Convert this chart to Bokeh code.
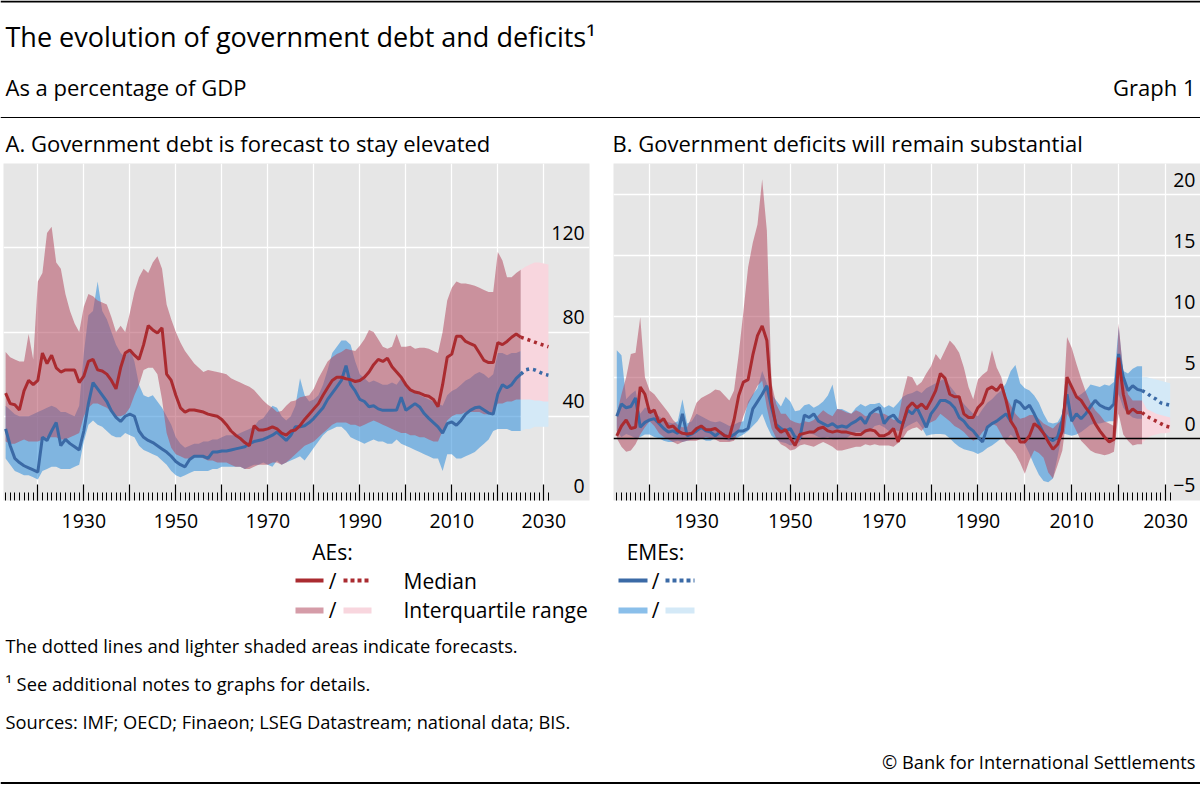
from bokeh.plotting import figure
from bokeh.models import Range1d, FixedTicker, LabelSet, ColumnDataSource, LinearAxis, Grid
from bokeh.layouts import column, row
from bokeh.embed import file_html
from bokeh.resources import INLINE
from bokeh.core.properties import value

FONT = "Open Sans"
RED = "#aa2b30"
BLUE = "#3b6aa6"
PINK = "#b34a60"
SKY = "#3c94dc"
PINK_FC = "#f8d6de"
SKY_FC = "#d4e9f7"
BG = "#e6e6e6"

# ---------------- data ----------------
years = list(range(1913, 2026))
fc_years = list(range(2025, 2032))
decade_ticks = list(range(1920, 2031, 10))
year_ticks = list(range(1913, 2032))
x_tick_labels = ["1930", "1950", "1970", "1990", "2010", "2030"]

# Panel A: government debt, % of GDP
ae_debt_med = [51, 46, 45.5, 43, 52, 57, 55, 57, 70, 65,
               69, 63, 61, 62, 62, 62, 56, 59, 66, 67,
               62, 61.5, 60, 57, 53, 63, 70, 71.5, 69, 67,
               74, 83, 81, 79.5, 82, 60, 57, 50, 44, 42,
               43, 43, 42.5, 42, 41, 40.5, 40, 38.5, 36, 33,
               31, 29.5, 27.5, 26, 35.5, 33.5, 33.5, 34, 35, 34,
               32, 31, 33, 33.5, 35.5, 38.5, 41, 43.5, 46, 50,
               53.5, 57, 58.5, 58.5, 57.8, 57.4, 56.5, 57, 58.5, 61,
               64.5, 67, 66, 67.5, 63.5, 61, 58.5, 55, 52.5, 51.5,
               51, 50, 49.5, 48, 44.5, 55, 68, 69.5, 78, 78,
               75.5, 74.5, 73.5, 70, 66.5, 65.5, 65.5, 75, 74, 75.5,
               77.5, 79, 77.5]
ae_debt_q75 = [70.5, 68, 67, 66, 66, 79, 67, 104, 108, 127,
               130, 113, 110, 98, 90, 84, 80, 92, 98, 97,
               95, 94, 93, 87, 80, 83, 80, 89, 99, 106,
               110, 108, 113, 116, 110, 93, 86, 80, 75, 71,
               68, 65, 63, 61, 62, 61.5, 61, 60.5, 60, 58,
               57, 56, 55, 54, 52.5, 50, 47.5, 45.5, 44, 42,
               42.5, 45, 47, 47.5, 49, 49.5, 50, 53, 58, 62,
               66, 68, 69.5, 70.5, 72, 71.5, 71, 73.5, 76.5, 81,
               80, 76.5, 73, 72, 73, 79, 73, 73, 73.5, 72,
               72.5, 72.5, 72, 71, 70, 80, 95, 101, 104, 103,
               103, 102.5, 102, 101, 100, 99, 99, 118, 114, 106,
               106, 108, 109.5]
ae_debt_q25 = [28, 27, 27, 28, 29, 28, 28, 28, 29, 30,
               30, 30, 29, 29, 30, 31, 32, 40, 44, 46,
               46, 45, 44, 42, 40, 40, 41, 44, 50, 55,
               62, 63, 63, 60, 48, 32, 25, 22, 21, 20,
               20, 21, 21, 20, 19, 19, 18, 18, 18, 17,
               16, 16, 15, 15, 16, 17, 17, 17, 18, 18,
               17, 18, 20, 22, 24, 26, 27, 28, 30, 32,
               34, 36, 37, 37, 37, 36, 36, 35, 36, 37,
               38, 37, 36, 35, 34, 33, 32, 32, 31, 31,
               30, 30, 29, 28, 28, 33, 38, 40, 41, 41,
               42, 42, 42, 42, 41, 41, 42, 46, 46, 47,
               47, 48, 48]
eme_debt_med = [34, 26, 20, 18, 16.5, 15.5, 14.5, 13.5, 30, 28.5,
                33, 37, 26, 29, 27, 25.5, 24, 33, 46, 56,
                53, 50, 47, 42.5, 39.5, 37.5, 40, 41, 40, 33,
                30, 28.5, 27.5, 26, 24.5, 23, 21, 18.5, 17, 16,
                19.5, 21, 21, 21, 20, 23, 23, 23.5, 23.5, 24,
                24.5, 25, 25.5, 27, 28, 28.5, 29, 30, 31, 32.5,
                30.5, 28.5, 31, 35, 35, 35.5, 37, 39, 41.5, 44,
                48, 51, 54, 57, 64, 55, 52, 48, 47, 44.5,
                45, 43.5, 42.8, 42.8, 42.8, 43, 49, 42.8, 44.4, 46,
                44.4, 41.3, 39, 37, 35, 32, 36.5, 37.3, 35.7, 38,
                41, 42.8, 44, 44.4, 43, 41.5, 41, 50.5, 55, 53.5,
                55, 58, 60]
eme_debt_q75 = [45, 43, 41, 40, 40, 40, 41, 42, 43, 44,
                45, 44, 42, 42, 41, 40, 45, 70, 88, 90,
                104, 90, 86, 80, 74, 70, 68, 72, 66, 55,
                50, 49, 50, 47, 44, 40, 36, 30, 27, 25,
                26, 27, 27, 28, 28, 29, 29, 30, 31, 31,
                31, 32, 33, 34, 35, 38, 39, 42, 45, 44,
                40, 38, 40, 45, 58, 50, 47, 48, 50, 55,
                62, 70, 73, 76, 76, 74, 66, 60, 58, 56,
                57, 56, 55, 55, 56, 55, 58, 54, 52, 52,
                50, 49, 48, 47, 46, 45, 50, 52, 53, 55,
                57, 58, 60, 61, 60, 58, 60, 70, 70, 69,
                70, 70, 71]
eme_debt_q25 = [20, 17, 14, 13, 12, 12, 11, 10, 14, 15,
                16, 16, 15, 15, 15, 16, 17, 28, 36, 38,
                36, 35, 33, 31, 30, 30, 32, 31, 30, 26,
                24, 23, 22, 21, 19, 17, 14, 12, 11, 12,
                13, 14, 14, 14, 14, 15, 15, 16, 16, 16,
                16, 16, 15, 16, 17, 17, 18, 17, 16, 19,
                17, 18, 19, 20, 21, 19, 22, 25, 28, 31,
                33, 34, 35, 35, 33, 30, 29, 28, 27, 28,
                29, 28, 28, 27, 27, 29, 27, 26, 25, 24,
                23, 22, 21, 20, 20, 14, 22, 22, 20, 20,
                21, 22, 23, 25, 27, 29, 33, 34, 34, 34,
                33, 33, 33]
ae_debt_med_fc = [77.5, 76.8, 76, 75.2, 74.4, 73.7, 73]
ae_debt_q75_fc = [109.5, 111, 112, 113, 113, 112.5, 112]
ae_debt_q25_fc = [48, 48, 48, 47.5, 47.5, 47, 47]
eme_debt_med_fc = [60, 62, 62.5, 62, 61, 60, 59.5]
eme_debt_q75_fc = [71, 71, 71, 70, 70, 70, 70]
eme_debt_q25_fc = [33, 34, 34, 35, 35, 35, 35]
debt_ticks = [0, 40, 80, 120]
debt_tick_labels = ["0", "40", "80", "120"]

# Panel B: government deficits, % of GDP
ae_def_med = [0.2, 1.0, 1.5, 0.8, 0.9, 4.2, 3.6, 2.1, 2.3, 1.3,
              1.6, 0.9, 1.0, 0.6, 0.4, 0.35, 0.4, 0.8, 1.0, 0.7,
              0.7, 0.8, 0.5, 0.2, 0.1, 1.5, 3.5, 4.6, 4.8, 6.8,
              8.4, 9.2, 8.0, 3.0, 0.9, 0.5, 0.7, 0.0, -0.6, 0.3,
              0.4, 0.5, 0.5, 0.8, 0.9, 0.6, 0.5, 0.6, 0.5, 0.5,
              0.4, 0.3, 0.3, 0.6, 0.7, 0.6, 0.2, 0.2, 0.4, 0.8,
              -0.3, 1.2, 2.5, 2.9, 2.5, 2.8, 2.4, 3.1, 3.9, 5.3,
              4.9, 3.6, 3.4, 3.4, 2.0, 1.7, 1.7, 2.5, 2.9, 4.0,
              4.2, 3.9, 4.4, 3.1, 1.4, 0.8, -0.3, -0.3, 0.2, 1.2,
              0.9, 0.4, -0.3, -0.9, -0.5, 0.6, 5.0, 4.2, 3.4, 3.1,
              2.5, 2.0, 1.2, 0.6, 0.1, -0.3, -0.1, 6.6, 3.6, 2.0,
              2.4, 2.1, 2.1]
ae_def_q75 = [2.0, 3.6, 5.0, 6.9, 7.0, 9.9, 5.0, 3.9, 3.6, 3.1,
              2.6, 2.1, 1.5, 1.1, 0.9, 0.9, 1.8, 2.9, 3.3, 3.5,
              3.7, 4.0, 3.9, 3.5, 3.1, 3.9, 6.9, 10.4, 14.0, 16.0,
              17.5, 21.2, 17.0, 4.5, 2.8, 2.0, 2.0, 1.5, 1.3, 1.2,
              1.4, 1.3, 1.5, 1.9, 2.3, 2.0, 1.8, 2.4, 2.3, 2.1,
              2.0, 2.3, 2.1, 1.8, 1.9, 2.1, 2.0, 2.0, 1.8, 1.5,
              1.6, 3.6, 5.1, 5.0, 4.3, 4.6, 5.3, 5.9, 6.9, 6.4,
              7.2, 8.0, 7.6, 7.0, 5.8, 4.2, 3.2, 4.8, 5.2, 5.5,
              7.2, 5.8, 5.0, 3.4, 2.7, 2.0, 1.6, 1.7, 1.9, 1.9,
              1.6, 1.2, 1.0, 0.8, 1.2, 1.5, 8.3, 7.4, 6.1, 4.9,
              3.8, 2.9, 2.3, 1.9, 1.4, 1.2, 1.0, 9.4, 5.3, 3.6,
              3.1, 3.1, 3.1]
ae_def_q25 = [0.0, -0.7, -1.1, -1.0, -0.5, 0.3, 0.9, 1.4, 1.0, 0.4,
              0.1, -0.1, -0.3, -0.5, -0.3, -0.2, -0.2, -0.2, -0.05, 0.1,
              0.0, -0.1, -0.3, -0.3, -0.3, -0.2, 0.6, 1.8, 2.8, 3.5,
              4.3, 4.7, 2.5, 0.8, 0.0, -0.5, -0.7, -1.0, -0.9, -0.6,
              -0.5, -0.6, -0.7, -0.5, -0.3, -0.5, -0.7, -1.0, -1.0, -0.9,
              -0.8, -0.7, -0.7, -0.5, -0.6, -0.5, -0.6, -0.6, -0.6, -0.7,
              -0.4, 0.0, 0.6, 0.8, 0.9, 0.6, 1.1, 1.3, 1.5, 2.0,
              1.7, 1.4, 1.0, 0.8, 0.5, 0.1, -0.2, 0.0, 0.5, 0.9,
              1.2, 1.0, 0.3, -0.4, -0.8, -1.3, -2.0, -2.9, -1.8, -1.0,
              -1.2, -1.6, -2.8, -3.3, -2.2, -1.0, 2.0, 1.4, 0.6, -0.2,
              -0.6, -1.0, -1.2, -1.3, -1.4, -1.3, -1.1, 2.0, 0.3, -0.2,
              -0.6, -0.5, -0.5]
eme_def_med = [1.8, 2.8, 2.5, 2.6, 3.3, 0.9, 1.3, 1.5, 1.6, 1.2,
               0.8, 0.5, 0.6, 0.4, 2.0, 0.2, 0.35, 0.6, 0.9, 0.6,
               0.5, 0.2, 0.5, 0.2, 0.1, 0.3, 0.6, 0.6, 0.8, 2.4,
               3.0, 3.6, 4.3, 2.5, 1.1, 0.8, 0.6, 0.8, 0.1, 0.0,
               1.9, 1.7, 2.0, 1.4, 1.2, 1.0, 1.2, 0.9, 1.0, 0.9,
               1.2, 1.4, 1.7, 1.2, 2.0, 2.3, 2.5, 1.2, 1.7, 1.9,
               1.4, 1.2, 2.3, 2.0, 2.5, 1.7, 0.9, 2.0, 2.5, 3.1,
               3.1, 2.9, 2.5, 1.7, 1.4, 0.9, 0.6, 0.1, -0.3, 0.9,
               1.2, 1.4, 1.7, 2.0, 1.4, 3.1, 2.9, 2.4, 2.7, 2.0,
               1.2, 0.4, 0.0, -0.2, 0.1, 1.5, 3.6, 1.4, 2.0, 1.6,
               2.0, 2.6, 3.1, 2.7, 2.5, 2.4, 2.8, 6.9, 5.0, 3.9,
               4.3, 4.0, 3.9]
eme_def_q75 = [7.2, 6.8, 3.2, 3.6, 3.9, 2.0, 2.5, 2.5, 2.0, 1.8,
               1.5, 1.3, 1.2, 1.4, 3.2, 1.2, 1.4, 2.0, 1.8, 1.6,
               1.4, 1.3, 1.4, 1.2, 1.0, 1.1, 1.3, 1.4, 3.0, 3.6,
               4.1, 5.5, 4.5, 3.6, 3.1, 2.6, 3.4, 3.0, 2.2, 2.3,
               2.7, 2.8, 2.5, 2.7, 3.0, 3.5, 4.4, 2.4, 2.4, 2.2,
               2.0, 2.5, 2.8, 2.6, 2.8, 2.8, 2.9, 2.5, 2.7, 2.5,
               2.9, 3.4, 3.6, 3.7, 3.9, 3.7, 4.1, 4.3, 4.5, 4.7,
               4.9, 4.3, 3.8, 3.3, 2.8, 2.4, 2.0, 1.8, 2.4, 2.9,
               3.2, 3.6, 3.9, 4.5, 5.5, 6.0, 4.5, 4.1, 3.9, 3.5,
               2.9, 2.0, 1.3, 1.2, 1.3, 2.0, 5.0, 3.9, 3.4, 3.6,
               3.9, 4.4, 4.3, 4.2, 4.4, 4.3, 4.6, 9.1, 5.5, 5.3,
               5.7, 5.9, 5.9]
eme_def_q25 = [0.6, 0.1, 0.35, 0.2, 0.0, 0.1, 0.3, 0.3, 0.1, 0.0,
               -0.2, -0.3, -0.3, -0.2, -0.3, -0.2, -0.1, 0.0, 0.0, -0.2,
               -0.2, 0.0, 0.0, -0.1, -0.2, -0.1, 0.1, 0.3, 0.6, 1.0,
               1.4, 2.0, 1.0, 0.2, -0.1, -0.3, -0.4, -0.6, -0.5, -0.3,
               0.4, 0.4, 0.3, 0.1, 0.0, 0.1, -0.1, -0.1, 0.0, 0.0,
               0.3, 0.5, 0.5, 0.4, 0.6, 1.0, 1.1, 0.9, 0.6, 0.7,
               0.6, 0.7, 1.0, 1.2, 1.4, 0.9, 0.2, 0.3, 0.35, 0.35,
               0.3, 0.0, -0.4, -0.7, -0.9, -1.0, -1.1, -1.3, -1.1, -0.8,
               -0.6, -0.3, 0.0, -0.2, 0.3, -0.1, 0.0, -0.5, -1.3, -2.2,
               -3.0, -3.5, -3.6, -3.3, -1.5, 0.4, 0.3, 0.2, 0.3, 0.5,
               0.8, 1.1, 1.2, 1.2, 1.3, 1.4, 1.4, 3.6, 2.5, 2.0,
               1.7, 1.6, 1.6]
ae_def_med_fc = [2.1, 1.8, 1.6, 1.4, 1.2, 1.0, 0.9]
ae_def_q75_fc = [3.1, 2.4, 2.2, 2.0, 1.9, 1.8, 1.7]
ae_def_q25_fc = [-0.4, 0.0, 0.2, 0.3, 0.4, 0.4, 0.5]
eme_def_med_fc = [3.9, 3.7, 3.4, 3.2, 2.9, 2.8, 2.7]
eme_def_q75_fc = [5.0, 5.0, 4.9, 4.8, 4.7, 4.6, 4.5]
eme_def_q25_fc = [1.6, 1.6, 1.5, 1.5, 1.4, 1.4, 1.4]
def_ticks = [-5, 0, 5, 10, 15, 20]
def_tick_labels = ["\u22125", "0", "5", "10", "15", "20"]

# ---------------- layout constants ----------------
W = 1200
HDR_H = 163
PANEL_FRAME_H = 337
PANEL_BOTTOM = 35
PANEL_H = PANEL_FRAME_H + PANEL_BOTTOM
FTR_H = 249


def blank(w, h):
    p = figure(width=w, height=h, x_range=Range1d(0, w), y_range=Range1d(h, 0),
               toolbar_location=None, output_backend="svg", min_border=0,
               x_axis_type=None, y_axis_type=None)
    p.outline_line_color = None
    p.background_fill_color = "white"
    p.border_fill_color = "white"
    return p


def txt(p, x, y, s, size, align="left", color="black"):
    p.text(x=[x], y=[y], text=[s], text_font=value(FONT), text_font_size=value(size),
           text_align=align, text_baseline="alphabetic", text_color=color)


def make_panel(xr, yr, ygrid, yticks, ylabels, label_x, label_dy, width, left_border,
               right_border, d, zero=False):
    p = figure(width=width, height=PANEL_H, x_range=Range1d(*xr), y_range=Range1d(*yr),
               toolbar_location=None, output_backend="svg", x_axis_type=None, y_axis_type=None,
               min_border_left=left_border, min_border_right=right_border, min_border_top=0,
               min_border_bottom=PANEL_BOTTOM)
    p.background_fill_color = BG
    p.border_fill_color = "white"
    p.outline_line_color = None
    p.add_layout(Grid(dimension=0, ticker=FixedTicker(ticks=decade_ticks),
                      grid_line_color="white", grid_line_width=1.3))
    p.add_layout(Grid(dimension=1, ticker=FixedTicker(ticks=ygrid),
                      grid_line_color="white", grid_line_width=1.3))
    # bands
    p.varea(x=years, y1=d["eme_q25"], y2=d["eme_q75"], fill_color=SKY, fill_alpha=0.6)
    p.varea(x=years, y1=d["ae_q25"], y2=d["ae_q75"], fill_color=PINK, fill_alpha=0.55)
    p.varea(x=fc_years, y1=d["eme_q25_fc"], y2=d["eme_q75_fc"], fill_color=SKY_FC, fill_alpha=1.0)
    p.varea(x=fc_years, y1=d["ae_q25_fc"], y2=d["ae_q75_fc"], fill_color=PINK_FC, fill_alpha=1.0)
    if zero:
        p.hspan(y=[0], line_color="black", line_width=1.3)
    # medians
    p.line(years, d["eme_med"], line_color=BLUE, line_width=3)
    p.line(years, d["ae_med"], line_color=RED, line_width=3)
    p.line(fc_years, d["eme_med_fc"], line_color=BLUE, line_width=3.5, line_dash="3 4")
    p.line(fc_years, d["ae_med_fc"], line_color=RED, line_width=3.5, line_dash="3 4")
    # x axis: ticks pointing into the frame, labels every 20 years
    ax = LinearAxis(ticker=FixedTicker(ticks=decade_ticks, minor_ticks=year_ticks))
    ax.axis_line_color = None
    ax.major_tick_in = 16
    ax.major_tick_out = 0
    ax.minor_tick_in = 8
    ax.minor_tick_out = 0
    ax.major_tick_line_color = "black"
    ax.minor_tick_line_color = "black"
    ax.major_tick_line_width = 1.2
    ax.minor_tick_line_width = 1
    ax.major_label_standoff = 13
    ax.major_label_text_font = FONT
    ax.major_label_text_font_size = "19.5px"
    ax.major_label_text_color = "black"
    overrides = {}
    for t in decade_ticks:
        overrides[t] = str(t) if str(t) in x_tick_labels else ""
    ax.major_label_overrides = overrides
    p.add_layout(ax, "below")
    # y tick labels, inside the frame just above their grid lines
    src = ColumnDataSource(dict(x=[label_x] * len(yticks), y=yticks, t=ylabels))
    p.add_layout(LabelSet(x="x", y="y", text="t", source=src, text_align="right",
                          text_baseline="middle", y_offset=label_dy,
                          text_font=value(FONT), text_font_size=value("19.5px"),
                          text_color="black"))
    return p


dA = dict(ae_med=ae_debt_med, ae_q25=ae_debt_q25, ae_q75=ae_debt_q75,
          eme_med=eme_debt_med, eme_q25=eme_debt_q25, eme_q75=eme_debt_q75,
          ae_med_fc=ae_debt_med_fc, ae_q25_fc=ae_debt_q25_fc, ae_q75_fc=ae_debt_q75_fc,
          eme_med_fc=eme_debt_med_fc, eme_q25_fc=eme_debt_q25_fc, eme_q75_fc=eme_debt_q75_fc)
dB = dict(ae_med=ae_def_med, ae_q25=ae_def_q25, ae_q75=ae_def_q75,
          eme_med=eme_def_med, eme_q25=eme_def_q25, eme_q75=eme_def_q75,
          ae_med_fc=ae_def_med_fc, ae_q25_fc=ae_def_q25_fc, ae_q75_fc=ae_def_q75_fc,
          eme_med_fc=eme_def_med_fc, eme_q25_fc=eme_def_q25_fc, eme_q75_fc=eme_def_q75_fc)

# panel A frame: x 3..589 ; panel B frame: x 613..1200
pA = make_panel((1912.54, 2039.93), (0, 160), [40, 80, 120], debt_ticks, debt_tick_labels,
                2038.9, 15, 613, 3, 24, dA)
pB = make_panel((1912.3, 2037.46), (-5.1, 22.5), [5, 10, 15, 20], def_ticks, def_tick_labels,
                2036.4, 14, 587, 0, 0, dB, zero=True)

# ---------------- header ----------------
hdr = blank(W, HDR_H)
hdr.segment(x0=[0], y0=[1], x1=[W], y1=[1], line_color="black", line_width=2.2)
hdr.segment(x0=[0], y0=[117], x1=[W], y1=[117], line_color="black", line_width=1.2)
txt(hdr, 5, 36, "The evolution of government debt and deficits\u00b9", "27px")
txt(hdr, 5, 86, "As a percentage of GDP", "22px")
txt(hdr, 1195, 86, "Graph 1", "22px", align="right")
txt(hdr, 5, 142, "A. Government debt is forecast to stay elevated", "22px")
txt(hdr, 612, 142, "B. Government deficits will remain substantial", "22px")

# ---------------- footer (legend + notes) ----------------
ftr = blank(W, FTR_H)
LEG = "21px"
txt(ftr, 332, 16, "AEs:", LEG, align="center")
txt(ftr, 655, 16, "EMEs:", LEG, align="center")
# median row
ftr.segment(x0=[295], y0=[45], x1=[323], y1=[45], line_color=RED, line_width=4)
txt(ftr, 332, 45, "/", LEG, align="center")
ftr.segment(x0=[343], y0=[45], x1=[371], y1=[45], line_color=RED, line_width=4, line_dash="4 3")
txt(ftr, 403, 45, "Median", LEG)
ftr.segment(x0=[618], y0=[45], x1=[647], y1=[45], line_color=BLUE, line_width=4)
txt(ftr, 655, 45, "/", LEG, align="center")
ftr.segment(x0=[665], y0=[45], x1=[694], y1=[45], line_color=BLUE, line_width=4, line_dash="4 3")
# interquartile row
ftr.segment(x0=[295], y0=[75], x1=[323], y1=[75], line_color=PINK, line_alpha=0.55, line_width=6)
txt(ftr, 332, 74, "/", LEG, align="center")
ftr.segment(x0=[343], y0=[75], x1=[371], y1=[75], line_color=PINK_FC, line_width=6)
txt(ftr, 403, 74, "Interquartile range", LEG)
ftr.segment(x0=[618], y0=[75], x1=[647], y1=[75], line_color=SKY, line_alpha=0.6, line_width=6)
txt(ftr, 655, 74, "/", LEG, align="center")
ftr.segment(x0=[665], y0=[75], x1=[694], y1=[75], line_color=SKY_FC, line_width=6)
# notes
NOTE = "18.3px"
txt(ftr, 5, 110, "The dotted lines and lighter shaded areas indicate forecasts.", NOTE)
txt(ftr, 5, 148, "\u00b9   See additional notes to graphs for details.", NOTE)
txt(ftr, 5, 186, "Sources: IMF; OECD; Finaeon; LSEG Datastream; national data; BIS.", NOTE)
txt(ftr, 1195, 226, "\u00a9 Bank for International Settlements", NOTE, align="right")
ftr.segment(x0=[0], y0=[247.5], x1=[W], y1=[247.5], line_color="black", line_width=2.2)

layout = column(hdr, row(pA, pB), ftr)
open("out.html", "w").write(file_html(layout, INLINE))
